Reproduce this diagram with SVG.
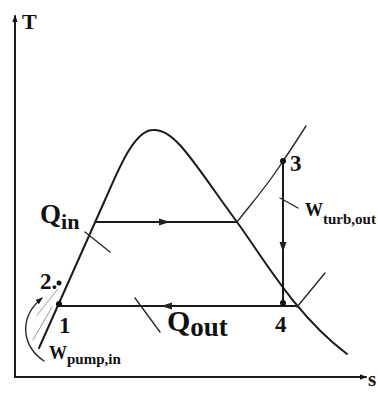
<svg xmlns="http://www.w3.org/2000/svg" width="378" height="399" viewBox="0 0 378 399">
<style>
.ln{fill:none;stroke:#1a1a1a;stroke-width:2;stroke-linecap:round}
.th{fill:none;stroke:#2a2a2a;stroke-width:1.4;stroke-linecap:round}
.fa{fill:none;stroke:#999;stroke-width:1;stroke-linecap:round}
.lb{font-family:"Liberation Serif",serif;font-weight:bold;fill:#111}
.pt{fill:#111}
.ar{fill:#222}
</style>
<defs>
<marker id="ah" viewBox="0 0 10 10" refX="9" refY="5" markerWidth="7" markerHeight="7" orient="auto" markerUnits="userSpaceOnUse"><path d="M0,1 L10,5 L0,9 z" fill="#111"/></marker>
</defs>
<rect width="378" height="399" fill="#fff"/>
<g id="axes">
<path class="ln" d="M15,377 L15,16" marker-end="url(#ah)"/>
<path class="ln" d="M15,377 L366,377" marker-end="url(#ah)"/>
<text class="lb" x="22" y="29" font-size="22">T</text>
<text class="lb" x="368" y="386" font-size="21" font-weight="normal">s</text>
</g>
<g id="dome">
<path class="ln" d="M39,348 L105,200 C116,176 133,130 153,130 C175,128 195,165 237,222 C262,256 295,315 347,354"/>
</g>
<g id="connectors">
<path class="ln" d="M96,222 L237,222"/>
<path class="ar" d="M170,222 L159,218.5 L159,225.5 z"/>
<path class="ln" d="M297,306 L59,306"/>
<path class="ar" d="M161,306 L172,302.5 L172,309.5 z"/>
<path class="ln" d="M283,161 L283,306"/>
<path class="ar" d="M283,252 L279.5,242 L286.5,242 z"/>
<path class="th" d="M237,222 C256,198 270,182 283,161 C292,148 299,137 306,126"/>
<path class="th" d="M297,307 L325,273"/>
<path class="th" d="M85,232 L110,252"/>
<path class="th" d="M135,298 L160,332"/>
<path class="th" d="M280,198 L298,208"/>
<path class="fa" d="M33,340 L52,307"/>
<path class="fa" d="M37,315 L58,289"/>
<path class="th" d="M44,361 C22,346 18,318 42,298" marker-end="url(#ah)"/>
</g>
<g id="point1"><circle class="pt" cx="59" cy="304" r="3"/><text class="lb" x="59" y="333" font-size="23">1</text></g>
<g id="point2"><circle class="pt" cx="59" cy="283" r="2.5"/><text class="lb" x="40" y="289" font-size="23">2.</text></g>
<g id="point3"><circle class="pt" cx="283" cy="161" r="3"/><text class="lb" x="290" y="171" font-size="23">3</text></g>
<g id="point4"><circle class="pt" cx="283" cy="303" r="3"/><text class="lb" x="275" y="332" font-size="23">4</text></g>
<g id="qin"><text class="lb" x="40" y="223" font-size="27">Q<tspan font-size="22" dy="6">in</tspan></text></g>
<g id="qout"><text class="lb" x="167" y="331" font-size="30">Q<tspan font-size="27" dy="5">out</tspan></text></g>
<g id="wturb"><text class="lb" x="305" y="216" font-size="18" font-weight="normal">W<tspan class="lb" font-size="15" font-weight="bold" dy="8">turb,out</tspan></text></g>
<g id="wpump"><text class="lb" x="49" y="359" font-size="18" font-weight="normal">W<tspan font-size="15" font-weight="bold" dy="5">pump,in</tspan></text></g>
</svg>
